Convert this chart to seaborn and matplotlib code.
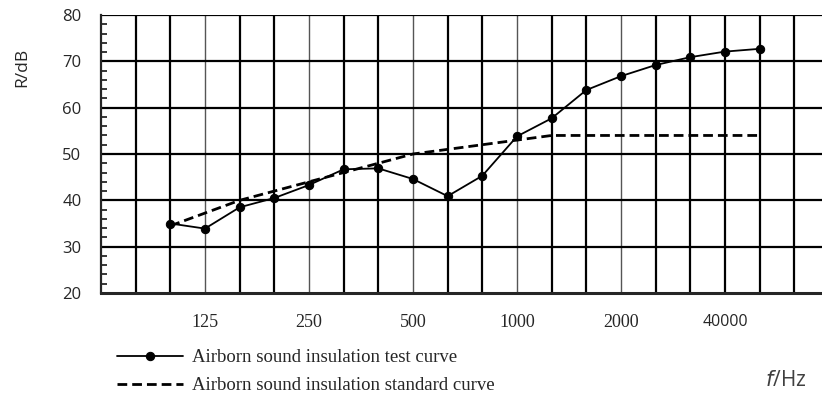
import matplotlib
matplotlib.use("Agg")
import matplotlib.pyplot as plt
import seaborn as sns
import numpy as np
import pandas as pd

# 1/3 octave bands measured, 100 Hz .. 5000 Hz
bands = [100, 125, 160, 200, 250, 315, 400, 500, 630, 800,
         1000, 1250, 1600, 2000, 2500, 3150, 4000, 5000]
test_db = [35.0, 33.9, 38.5, 40.5, 43.3, 46.7, 46.9, 44.6, 40.9, 45.3,
           53.8, 57.7, 63.8, 66.8, 69.2, 70.9, 72.1, 72.7]
std_db = [34.5, 37.25, 40, 42, 44, 46, 48, 50, 51, 52,
          53, 54, 54, 54, 54, 54, 54, 54]
tick_labels = ["125", "250", "500", "1000", "2000", "40000"]
tick_bands = [125, 250, 500, 1000, 2000, 4000]

# band slots on the chart: two empty slots before 100 Hz
pos = {b: i + 2 for i, b in enumerate(bands)}
df = pd.DataFrame({"x": [pos[b] for b in bands], "test": test_db, "std": std_db})

sns.set_style("white")
plt.rcParams["font.family"] = ["Open Sans", "DejaVu Sans"]

fig = plt.figure(figsize=(8.22, 3.96), dpi=100)
ax = fig.add_axes([101 / 822, 1 - 293 / 396, 1 - 101 / 822, (293 - 15) / 396])

ax.set_xlim(0, 20.8)
ax.set_ylim(20, 80)

# grid
tick_pos = [pos[b] for b in tick_bands]
for k in range(1, 21):
    if k in tick_pos[:-1]:
        ax.axvline(k, color="#555555", lw=1.0, zorder=1)
    else:
        ax.axvline(k, color="black", lw=1.6, zorder=1)
for yv in range(30, 81, 10):
    ax.axhline(yv, color="black", lw=1.6, zorder=1)

sns.lineplot(data=df, x="x", y="test", ax=ax, color="black", lw=1.3,
             marker="o", markersize=6, markeredgecolor="black",
             label="Airborn sound insulation test curve", zorder=3)
sns.lineplot(data=df, x="x", y="std", ax=ax, color="black", lw=2.0,
             label="Airborn sound insulation standard curve", zorder=3)
ax.lines[-1].set_linestyle((0, (3.5, 1.8)))

for s in ["right", "top"]:
    ax.spines[s].set_visible(False)
ax.spines["left"].set_linewidth(1.6)
ax.spines["bottom"].set_linewidth(2.2)

ax.set_xticks([0] + tick_pos)
ax.set_xticklabels([""] + tick_labels, fontfamily="Liberation Serif", fontsize=13)
lbl = ax.get_xticklabels()[-1]
lbl.set_fontfamily("Open Sans")
lbl.set_fontsize(11.5)
ax.tick_params(axis="x", direction="inout", length=12, width=2.2, pad=9)
ax.set_yticks(range(20, 81, 10))
ax.set_yticks(np.arange(20, 81, 2), minor=True)
ax.tick_params(axis="y", which="major", direction="out", length=3, width=1.3,
               labelsize=12, pad=11)
ax.tick_params(axis="y", which="minor", direction="in", length=4, width=1.3, left=True)
ax.set_xlabel("")
ax.set_ylabel("")

fig.text(22 / 822, 1 - 67 / 396, "R/dB", rotation=90, ha="center", va="center", fontsize=12.5)
fig.text(765 / 822, 1 - 381 / 396, "$\\mathit{f}$/Hz", ha="left", va="center",
         fontsize=15, color="#404040")

ax.legend(loc="upper left", bbox_to_anchor=(117 / 822, 1 - 349 / 396),
          bbox_transform=fig.transFigure, frameon=False,
          prop={"family": "Liberation Serif", "size": 13.5},
          handlelength=3.5, handletextpad=0.5, labelspacing=0.6,
          borderpad=0, borderaxespad=0)

fig.savefig("out.png", dpi=100)
